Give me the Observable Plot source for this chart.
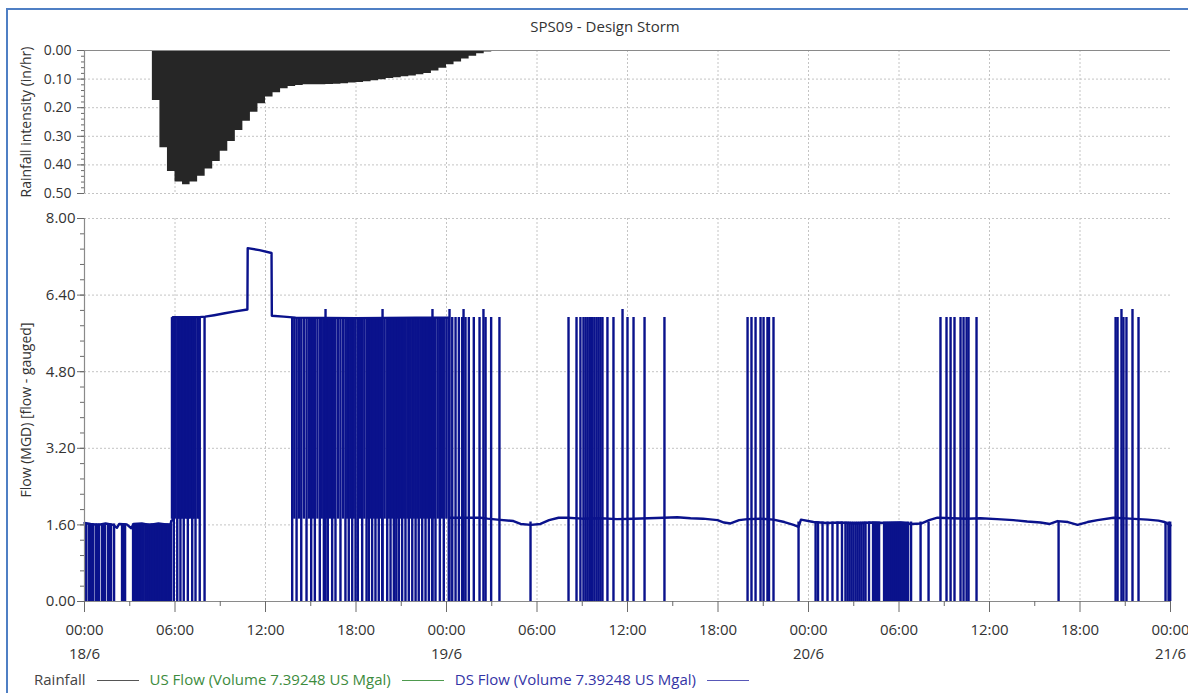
<!DOCTYPE html>
<html>
<head>
<meta charset="utf-8">
<script src="https://cdn.jsdelivr.net/npm/d3@7"></script>
<script src="https://cdn.jsdelivr.net/npm/@observablehq/plot@0.6"></script>
<style>
  body { margin: 0; background: #fff; font-family: "Open Sans", "Noto Sans", sans-serif; }
  #chart { position: relative; width: 1188px; height: 693px; overflow: hidden; }
  #frame { position: absolute; left: 6px; top: 8px; right: -4px; bottom: -4px;
           border-left: 2px solid #4f7fc4; border-top: 2px solid #4f7fc4; }
  #title { position: absolute; top: 16px; left: 0; width: 1210px; text-align: center;
           font-size: 15px; color: #333; }
  #rain { position: absolute; left: 0; top: 40px; }
  #flow { position: absolute; left: 0; top: 200px; }
  #legend { position: absolute; left: 34px; top: 669px; font-size: 15px; line-height: 20px;
            white-space: nowrap; }
  #legend .sw { display: inline-block; width: 42px; height: 0; border-top: 1.6px solid;
                vertical-align: middle; margin: 0 11px; }
</style>
</head>
<body>
<div id="chart">
  <div id="frame"></div>
  <div id="title"></div>
  <div id="rain"></div>
  <div id="flow"></div>
  <div id="legend"></div>
</div>
<script>
// ---- Chart text ----
const chartTitle = "SPS09 - Design Storm";
const legendNames = ["Rainfall", "US Flow (Volume 7.39248 US Mgal)", "DS Flow (Volume 7.39248 US Mgal)"];
const legendText = ["#444444", "#3d8b3d", "#3434a6"];
const legendLine = ["#555555", "#4e9a4e", "#5858b8"];

// ---- Rainfall hyetograph: 30-minute blocks (start hour from 18/6 00:00, in/hr) ----
const rainHours = [4.5, 5, 5.5, 6, 6.5, 7, 7.5, 8, 8.5, 9, 9.5, 10, 10.5, 11, 11.5, 12, 12.5, 13, 13.5,
  14, 14.5, 15, 15.5, 16, 16.5, 17, 17.5, 18, 18.5, 19, 19.5, 20, 20.5, 21, 21.5, 22, 22.5, 23, 23.5,
  24, 24.5, 25, 25.5, 26, 26.5, 27];
const rainIntensity = [0.175, 0.34, 0.423, 0.46, 0.469, 0.46, 0.44, 0.414, 0.388, 0.352, 0.318, 0.28,
  0.247, 0.216, 0.186, 0.163, 0.148, 0.134, 0.126, 0.122, 0.12, 0.12, 0.12, 0.119, 0.118, 0.116, 0.114,
  0.112, 0.109, 0.106, 0.102, 0.098, 0.095, 0.092, 0.089, 0.085, 0.08, 0.072, 0.062, 0.05, 0.04, 0.03,
  0.02, 0.011, 0.005, 0];

// ---- Gauged flow (MGD): running level ----
const envHours = [0, 0.4, 0.9, 1.4, 1.9, 2.15, 2.3, 2.8, 3.1, 3.25, 3.8, 4.3, 4.9, 5.4, 5.7, 5.75, 5.85,
  5.86, 7.6, 8.0, 8.6, 9.3, 10.0, 10.8, 10.82, 11.6, 12.4, 12.42, 13.2, 14, 18, 22, 24.15,
  24.17, 26.25, 26.72, 27.38, 28.44, 28.91, 29.6, 30.23, 30.8, 31.43, 32.02, 33, 34.21, 35.3, 36.4,
  37.4, 38.39, 39.3, 40.18, 41.0, 41.97, 42.4, 42.83, 43.4, 43.96, 44.8, 45.68, 46.4, 47.01, 47.34,
  47.5, 48.33, 49.2, 50.12, 51.1, 52.11, 53.1, 54.1, 54.8, 55.5, 56.0, 56.55, 57.5, 58.5, 59.4, 60.5,
  61.59, 62.5, 63.38, 64.0, 64.51, 65.2, 65.84, 66.5, 67.16, 68.22, 69.3, 70.48, 71.2, 71.6, 72];
const envFlow = [1.64, 1.62, 1.6, 1.63, 1.6, 1.54, 1.62, 1.61, 1.53, 1.62, 1.63, 1.6, 1.63, 1.61, 1.6,
  1.68, 1.7, 5.94, 5.94, 5.95, 5.98, 6.02, 6.06, 6.1, 7.38, 7.34, 7.28, 5.97, 5.95, 5.93, 5.92, 5.93,
  5.93, 1.75, 1.75, 1.73, 1.71, 1.68, 1.62, 1.6, 1.62, 1.7, 1.75, 1.75, 1.73, 1.74, 1.72, 1.73, 1.74,
  1.75, 1.76, 1.74, 1.73, 1.7, 1.65, 1.63, 1.7, 1.72, 1.73, 1.71, 1.66, 1.6, 1.56, 1.71, 1.66, 1.64,
  1.65, 1.63, 1.65, 1.64, 1.65, 1.62, 1.63, 1.7, 1.75, 1.74, 1.73, 1.74, 1.72, 1.7, 1.67, 1.65, 1.62,
  1.68, 1.66, 1.6, 1.66, 1.7, 1.75, 1.73, 1.71, 1.69, 1.66, 1.59];

// Levels reached by the pump switching
const dryLevelEarly = 1.62;   // base flow on 18/6 before the storm
const dryLevelLate = 1.66;    // base flow after the storm
const restLevel = 1.72;       // level between pump starts
const pumpLevel = 5.93;       // pumped flow
const peakLevel = 6.1;        // short surges above pumped flow

// Hours (from 18/6 00:00) where flow drops from base flow to zero
const dipsEarly = [0.05, 0.12, 0.30, 0.40, 0.50, 0.58, 0.76, 0.86, 0.96, 1.16, 1.26, 1.36, 1.56, 1.66,
  1.76, 1.96, 2.49, 2.59, 2.69, 3.22, 3.32, 3.42, 3.52, 3.61, 3.71, 3.81, 3.91, 4.03, 4.15, 4.28,
  4.41, 4.51, 4.61, 4.74, 4.84, 4.94, 5.07, 5.17, 5.27, 5.37, 5.45, 5.54, 5.64, 5.73];
const dipsLate = [29.57, 47.34, 48.47, 48.63, 48.93, 49.26, 49.59, 49.92, 50.22, 50.45, 50.59, 50.72,
  50.85, 50.98, 51.12, 51.25, 51.38, 51.51, 51.65, 51.78, 52.01, 52.28, 52.41, 52.54, 52.68, 53.01,
  53.14, 53.27, 53.41, 53.54, 53.67, 53.80, 53.94, 54.07, 54.20, 54.33, 54.47, 54.60, 54.80, 55.43,
  55.96, 64.58, 71.67, 71.87, 71.98];

// Hours where flow swings between zero and pumped flow
const pumpFull = [5.92, 6.15, 6.36, 6.58, 6.85, 7.14, 7.36, 7.64, 7.96,
  13.77, 14.06, 14.37, 14.72, 15.03, 15.27, 15.60, 15.87, 16.13, 16.42, 16.64, 16.97, 17.30, 17.52,
  17.75, 17.97, 18.12, 18.41, 18.70, 18.85, 19.07, 19.29, 19.51, 19.74, 20.07, 20.29, 20.51, 20.67,
  20.84, 21.06, 21.28, 21.50, 21.73, 21.95, 22.16, 22.39, 22.61, 22.83, 23.05, 23.27, 23.56, 23.82,
  24.15, 24.38, 24.60, 24.82, 25.04, 25.26, 25.48, 25.81, 26.19, 26.59, 26.96, 27.51,
  32.09, 32.62, 32.88, 33.08, 33.22, 33.35, 33.48, 33.58, 33.68, 33.81, 33.95, 34.08, 34.21, 34.34,
  34.67, 35.07, 36.00, 36.40, 37.13, 38.45,
  43.96, 44.22, 44.49, 44.82, 45.02, 45.28, 45.38, 45.68,
  56.75, 57.15, 57.42, 57.68, 58.08, 58.28, 58.48, 58.61, 59.14,
  68.36, 68.49, 68.88, 69.08, 69.88];
// Hours where flow swings between the resting level and pumped flow
const pumpUpper = [5.80, 5.90, 6.00, 6.20, 6.30, 6.40, 6.50, 6.60, 6.70, 6.80, 6.89, 6.99, 7.19, 7.29,
  7.49, 7.59, 13.91, 14.21, 14.54, 14.87, 15.15, 15.44, 15.73, 16.00, 16.28, 16.53, 16.81, 17.14,
  17.42, 17.64, 17.85, 18.27, 18.55, 18.78, 18.96, 19.18, 19.40, 19.62, 19.90, 20.18, 20.40, 20.58,
  20.75, 20.95, 21.17, 21.40, 21.61, 21.83, 22.06, 22.28, 22.50, 22.72, 22.94, 23.16, 23.42, 23.69,
  23.99];
// Hours of the short surges
const pumpPeak = [15.98, 19.76, 23.07, 24.20, 25.13, 26.45, 35.67, 68.75, 69.48];

// ---- Axis ticks ----
const rainTicks = [0, 0.1, 0.2, 0.3, 0.4, 0.5];
const flowTicks = [0, 1.6, 3.2, 4.8, 6.4, 8];

// ---- Build tables ----
const T0 = Date.UTC(2021, 5, 18);
const at = h => new Date(T0 + h * 3600000);
const xDomain = [at(0), at(72)];
const sixHours = d3.range(0, 73, 6).map(at);
const threeHours = d3.range(3, 72, 6).map(at);
const midnights = [0, 24, 48, 72].map(at);
const rainMinor = d3.range(0, 0.5001, 0.02);
const flowMinor = d3.range(0, 8.001, 0.32);

const rain = rainHours.map((h, i) => ({t: at(h), v: rainIntensity[i]}));
const envelope = envHours.map((h, i) => ({t: at(h), v: envFlow[i]}));
const swings = [
  ...dipsEarly.map(h => ({t: at(h), lo: 0, hi: dryLevelEarly})),
  ...dipsLate.map(h => ({t: at(h), lo: 0, hi: dryLevelLate})),
  ...pumpFull.map(h => ({t: at(h), lo: 0, hi: pumpLevel})),
  ...pumpUpper.map(h => ({t: at(h), lo: restLevel, hi: pumpLevel})),
  ...pumpPeak.map(h => ({t: at(h), lo: 0, hi: peakLevel}))
];

const font = "'Open Sans', 'Noto Sans', sans-serif";
const gridStyle = {stroke: "#c4c4c4", strokeOpacity: 1, strokeDasharray: "2,2"};
const axisColor = "#8a8a8a";
const tickColor = "#6a6a6a";
const navy = "#0a128c";
const fmt2 = d3.format(".2f");

// ---- Rainfall panel ----
const rainPlot = Plot.plot({
  width: 1188, height: 157,
  marginTop: 10, marginBottom: 4, marginLeft: 84, marginRight: 18,
  style: {fontFamily: font, fontSize: "14px", color: "#333", background: "transparent", overflow: "visible"},
  x: {type: "utc", domain: xDomain, axis: null},
  y: {domain: [0, 0.5], reverse: true, label: null},
  marks: [
    Plot.gridX(sixHours.slice(1, -1), gridStyle),
    Plot.gridY(rainTicks.slice(1), gridStyle),
    Plot.areaY(rain, {x: "t", y: "v", curve: "step-after", fill: "#262626"}),
    Plot.ruleY([0], {stroke: axisColor, strokeWidth: 1.2}),
    Plot.ruleX([xDomain[0]], {stroke: axisColor, strokeWidth: 1.2}),
    Plot.axisY(rainMinor, {tickSize: 3, tickFormat: () => "", label: null, stroke: tickColor}),
    Plot.axisY(rainTicks, {tickSize: 7, tickPadding: 6, tickFormat: fmt2, label: null, stroke: tickColor, fill: "#333", fontSize: 14}),
    Plot.axisY([], {tickSize: 0, label: "Rainfall intensity (in/hr)", labelAnchor: "center", labelArrow: "none",
      labelOffset: 63, fontSize: 14, fill: "#333"})
  ]
});

// ---- Flow panel ----
const flowPlot = Plot.plot({
  width: 1188, height: 461,
  marginTop: 18, marginBottom: 60, marginLeft: 84, marginRight: 18,
  style: {fontFamily: font, fontSize: "15px", color: "#333", background: "transparent", overflow: "visible"},
  x: {type: "utc", domain: xDomain, label: null},
  y: {domain: [0, 8], label: null},
  marks: [
    Plot.gridX(sixHours.slice(1, -1), gridStyle),
    Plot.gridY(flowTicks.slice(1), gridStyle),
    Plot.ruleX(swings, {x: "t", y1: "lo", y2: "hi", stroke: navy, strokeWidth: 2.4}),
    Plot.line(envelope, {x: "t", y: "v", stroke: navy, strokeWidth: 2.4}),
    Plot.ruleY([0], {stroke: axisColor, strokeWidth: 1.2}),
    Plot.ruleX([xDomain[0]], {stroke: axisColor, strokeWidth: 1.2}),
    Plot.axisY(flowMinor, {tickSize: 4, tickFormat: () => "", label: null, stroke: tickColor}),
    Plot.axisY(flowTicks, {tickSize: 7, tickPadding: 2, tickFormat: fmt2, label: null, stroke: tickColor, fill: "#333", fontSize: 15}),
    Plot.axisY([], {tickSize: 0, label: "Flow (MGD) [flow - gauged]", labelAnchor: "center", labelArrow: "none",
      labelOffset: 63, fontSize: 14, fill: "#333"}),
    Plot.axisX(threeHours, {tickSize: 5, tickFormat: () => "", label: null, stroke: tickColor}),
    Plot.axisX(sixHours, {tickSize: 11, tickPadding: 12, tickFormat: d3.utcFormat("%H:%M"), label: null,
      stroke: tickColor, fill: "#333", fontSize: 15}),
    Plot.axisX(midnights, {tickSize: 0, tickPadding: 47, tickFormat: d => `${d.getUTCDate()}/${d.getUTCMonth() + 1}`,
      label: null, fill: "#333", fontSize: 15})
  ]
});

document.getElementById("title").textContent = chartTitle;
document.getElementById("rain").append(rainPlot);
document.getElementById("flow").append(flowPlot);

const legend = document.getElementById("legend");
legendNames.forEach((name, i) => {
  const lab = document.createElement("span");
  lab.textContent = name;
  lab.style.color = legendText[i];
  const sw = document.createElement("span");
  sw.className = "sw";
  sw.style.borderColor = legendLine[i];
  legend.append(lab, sw);
});
</script>
</body>
</html>
